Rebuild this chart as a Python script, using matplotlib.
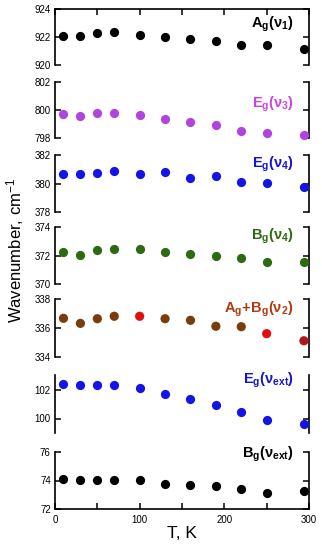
import numpy as np
import matplotlib
matplotlib.use("Agg")
import matplotlib.pyplot as plt
from matplotlib.ticker import MultipleLocator, FixedLocator

plt.rcParams['font.family'] = ['Liberation Sans', 'DejaVu Sans']
plt.rcParams['mathtext.fontset'] = 'custom'
plt.rcParams['mathtext.rm'] = 'Liberation Sans'
plt.rcParams['mathtext.bf'] = 'Liberation Sans:bold'
plt.rcParams['mathtext.it'] = 'Liberation Sans:italic'

# temperaturas (K)
T = [10, 30, 50, 70, 100, 130, 160, 190, 220, 250, 294]

ag_v1 = [922.07, 922.07, 922.26, 922.36, 922.16, 922.02, 921.88, 921.69, 921.40, 921.40, 921.16]
eg_v3 = [799.71, 799.59, 799.81, 799.76, 799.62, 799.33, 799.16, 798.95, 798.52, 798.38, 798.21]
eg_v4 = [380.65, 380.65, 380.72, 380.86, 380.65, 380.81, 380.41, 380.55, 380.08, 380.06, 379.78]
bg_v4 = [372.27, 372.04, 372.39, 372.43, 372.46, 372.27, 372.13, 371.96, 371.82, 371.56, 371.56]
agbg_v2 = [336.67, 336.32, 336.64, 336.81, 336.81, 336.64, 336.53, 336.12, 336.09, 335.61, 335.12]
eg_vext = [102.41, 102.28, 102.30, 102.28, 102.07, 101.68, 101.36, 100.94, 100.43, 99.93, 99.61]
bg_vext = [74.11, 74.04, 74.01, 74.04, 74.01, 73.78, 73.68, 73.59, 73.38, 73.14, 73.26]

paineis = [
    (ag_v1, (920, 924), [920, 922, 924], r'$\mathbf{A_g(\nu_1)}$', '#000000', '#000000', 0.89),
    (eg_v3, (798, 802), [798, 800, 802], r'$\mathbf{E_g(\nu_3)}$', '#b044e0', '#cc44dd', 0.78),
    (eg_v4, (378, 382), [378, 380, 382], r'$\mathbf{E_g(\nu_4)}$', '#1414e6', '#1414d0', 1.01),
    (bg_v4, (370, 374), [370, 372, 374], r'$\mathbf{B_g(\nu_4)}$', '#2d6a12', '#2d6a12', 1.01),
    (agbg_v2, (334, 338), [334, 336, 338], r'$\mathbf{A_g\!+\!B_g(\nu_2)}$', '#7a3c0c', '#b03a10', 0.99),
    (eg_vext, (99, 103), [100, 102], r'$\mathbf{E_g(\nu_{ext})}$', '#1414e6', '#1414d0', 1.08),
    (bg_vext, (72, 76), [72, 74, 76], r'$\mathbf{B_g(\nu_{ext})}$', '#000000', '#000000', 1.13),
]
cores_v2 = ['#7a3c0c', '#7a3c0c', '#7a3c0c', '#7a3c0c', '#e01010', '#7a3c0c',
            '#7a3c0c', '#7a3c0c', '#7a3c0c', '#e01010', '#b01818']

topos = [9, 82, 155, 227, 299, 375, 452]
bases = [65, 138, 212, 284, 357, 433, 509]

fig = plt.figure(figsize=(3.22, 5.5), dpi=100)
W, H = 322.0, 550.0
n = len(paineis)

for i, (valores, lim, ticks, rotulo, cor, cor_txt, ytxt) in enumerate(paineis):
    ax = fig.add_axes([55 / W, 1 - bases[i] / H, 254 / W, (bases[i] - topos[i]) / H])
    cores = cores_v2 if i == 4 else cor
    ax.scatter(T, valores, s=44, c=cores, zorder=3, clip_on=False, linewidths=0)
    ax.set_xlim(0, 300)
    ax.set_ylim(*lim)
    ax.yaxis.set_major_locator(FixedLocator(ticks))
    ax.xaxis.set_major_locator(MultipleLocator(100))
    ax.xaxis.set_minor_locator(MultipleLocator(50))
    ax.tick_params(axis='y', which='both', direction='in', left=True, right=True,
                   length=4, width=1.1, labelsize=7, pad=3)
    ax.tick_params(axis='x', which='both', direction='in', length=4, width=1.1,
                   labelsize=7, pad=4, top=(i == 0), bottom=(i == n - 1),
                   labelbottom=(i == n - 1))
    for lado in ['left', 'right', 'top', 'bottom']:
        ax.spines[lado].set_linewidth(1.2)
    ax.spines['top'].set_visible(i == 0)
    ax.spines['bottom'].set_visible(i == n - 1)
    ax.patch.set_alpha(0)
    ax.text(0.94, ytxt, rotulo, transform=ax.transAxes, ha='right', va='top',
            fontsize=10.5, color=cor_txt)

fig.text(15 / W, 1 - 250 / H, r'Wavenumber, cm$^{-1}$', rotation=90,
         ha='center', va='center', fontsize=12)
fig.text(182 / W, 1 - 534 / H, 'T, K', ha='center', va='center', fontsize=12.5)

fig.savefig('out.png', dpi=100)
